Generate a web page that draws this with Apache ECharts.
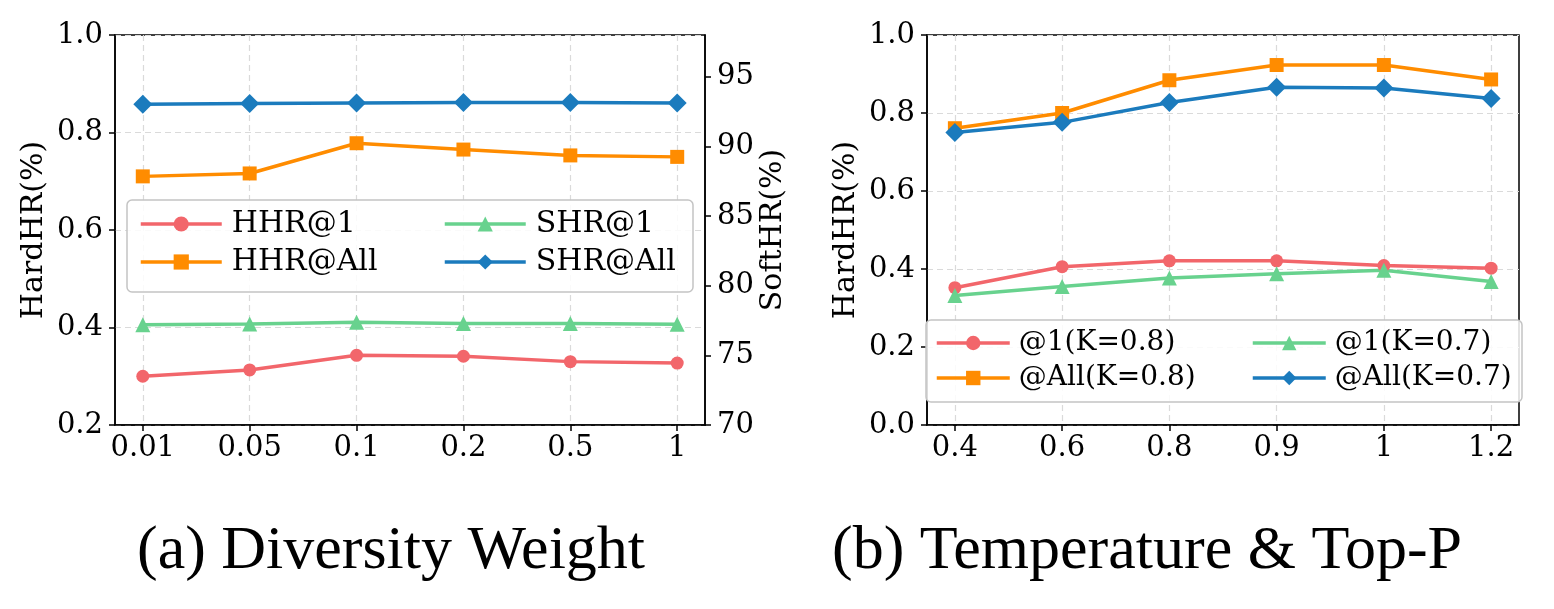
<!DOCTYPE html>
<html>
<head>
<meta charset="utf-8">
<script src="https://cdn.jsdelivr.net/npm/echarts@6/dist/echarts.min.js"></script>
<style>
  html, body { margin: 0; padding: 0; background: #fff; }
  #main { width: 1554px; height: 609px; }
</style>
</head>
<body>
<div id="main"></div>
<script>
// (a) diversity weight
const weightLabels = ['0.01', '0.05', '0.1', '0.2', '0.5', '1'];
const hhr1 = [0.300, 0.313, 0.343, 0.341, 0.330, 0.327];
const hhrAll = [0.710, 0.716, 0.778, 0.765, 0.753, 0.750];
const shr1 = [77.2, 77.25, 77.38, 77.28, 77.28, 77.24];//SoftHR, right axis
const shrAll = [93.03, 93.08, 93.12, 93.15, 93.15, 93.12];

// (b) temperature & top-p
const tempLabels = ['0.4', '0.6', '0.8', '0.9', '1', '1.2'];
const at1K08 = [0.352, 0.406, 0.421, 0.421, 0.409, 0.402];
const at1K07 = [0.332, 0.355, 0.377, 0.388, 0.397, 0.368];
const atAllK08 = [0.761, 0.800, 0.884, 0.923, 0.923, 0.886];
const atAllK07 = [0.750, 0.776, 0.827, 0.866, 0.864, 0.837];

const softTicks = [70, 75, 80, 85, 90, 95];

const RED = '#f2666b', ORANGE = '#ff8c00', GREEN = '#68d28e', BLUE = '#1b7bbd';
const SERIF = 'DejaVu Serif';
const idx = [0, 1, 2, 3, 4, 5];
const GRIDLINE = { color: '#dadada', type: [6, 4], width: 1.2 };

let chart = echarts.init(document.getElementById('main'), null, { renderer: 'canvas' });

function pairs(arr) {
  return arr.map((v, i) => [i, v]);
}

function lineSeries(name, data, color, symbol, size, xi, yi) {
  return {
    name: name,
    type: 'line',
    xAxisIndex: xi,
    yAxisIndex: yi,
    data: pairs(data),
    symbol: symbol,
    symbolSize: size,
    lineStyle: { color: color, width: 3.5 },
    itemStyle: { color: color },
    emphasis: { disabled: true },
    animation: false,
    z: 2
  };
}

function catAxis(gridIndex, labels) {
  return {
    type: 'value',
    gridIndex: gridIndex,
    min: -0.26,
    max: 5.26,
    axisLine: { show: true, onZero: false, lineStyle: { color: '#000', width: 1.5 } },
    axisTick: { show: true, inside: false, length: 6, customValues: idx, lineStyle: { color: '#000', width: 1.5 } },
    axisLabel: {
      customValues: idx,
      margin: 9,
      fontFamily: SERIF, fontSize: 29, color: '#000',
      formatter: v => labels[Math.round(v)]
    },
    splitLine: { show: true, lineStyle: GRIDLINE }
  };
}

function yAxis(gridIndex, min, max, interval, position, name, fmt, grid) {
  return {
    type: 'value',
    gridIndex: gridIndex,
    position: position,
    min: min,
    max: max,
    interval: interval,
    name: name,
    nameLocation: 'middle',
    nameGap: position === 'left' ? 66 : 52,
    nameRotate: 90,
    nameTextStyle: { fontFamily: SERIF, fontSize: 30, color: '#000' },
    axisLine: { show: true, onZero: false, lineStyle: { color: '#000', width: 1.5 } },
    axisTick: { show: true, inside: false, length: 6, lineStyle: { color: '#000', width: 1.5 } },
    axisLabel: { margin: 12, fontFamily: SERIF, fontSize: 29, color: '#000', formatter: fmt },
    splitLine: { show: grid, lineStyle: GRIDLINE }
  };
}

function legend(left, top, names, w, h, gap, fs, pad) {
  return {
    orient: 'vertical',
    left: left,
    top: top,
    padding: 0,
    itemWidth: w,
    itemHeight: h,
    itemGap: gap,
    z: 6,
    data: names,
    selectedMode: false,
    lineStyle: { width: 3.5 },
    textStyle: { fontFamily: SERIF, fontSize: fs, lineHeight: fs, color: '#000', padding: [0, 0, 0, pad] }
  };
}

function legendBox(x, y, w, h) {
  return {
    type: 'rect',
    z: 4,
    shape: { x: x, y: y, width: w, height: h, r: 5 },
    style: { fill: 'rgba(255,255,255,0.85)', stroke: '#c4c4c4', lineWidth: 1.5 }
  };
}

const fmt1 = v => v.toFixed(1);

// right SoftHR axis stops at 98 but is only labelled up to 95
let softAxis = yAxis(0, 70, 98, 5, 'right', 'SoftHR(%)', v => String(v), false);
softAxis.axisLabel.customValues = softTicks;
softAxis.axisTick.customValues = softTicks;

let option = {
  backgroundColor: '#fff',
  animation: false,
  title: [
    { text: '(a) Diversity Weight', left: 132, top: 516, textStyle: { fontFamily: 'Liberation Serif', fontSize: 62, fontWeight: 'normal', color: '#000' } },
    { text: '(b) Temperature & Top-P', left: 827, top: 516, textStyle: { fontFamily: 'Liberation Serif', fontSize: 62, fontWeight: 'normal', color: '#000' } }
  ],
  grid: [
    { left: 115, right: 849, top: 35, bottom: 184, show: true, borderColor: '#000', borderWidth: 1.5, backgroundColor: 'transparent' },
    { left: 927, right: 35, top: 35, bottom: 184, show: true, borderColor: '#000', borderWidth: 1.5, backgroundColor: 'transparent' }
  ],
  xAxis: [catAxis(0, weightLabels), catAxis(1, tempLabels)],
  yAxis: [
    yAxis(0, 0.2, 1.0, 0.2, 'left', 'HardHR(%)', fmt1, true),
    softAxis,
    yAxis(1, 0, 1, 0.2, 'left', 'HardHR(%)', fmt1, true)
  ],
  legend: [
    legend(139, 209, ['HHR@1', 'HHR@All'], 81, 19, 8, 30, 5),
    legend(443, 209, ['SHR@1', 'SHR@All'], 81, 19, 8, 30, 5),
    legend(935, 329, ['@1(K=0.8)', '@All(K=0.8)'], 73, 18, 7, 28, 4),
    legend(1251, 329, ['@1(K=0.7)', '@All(K=0.7)'], 73, 18, 7, 28, 4)
  ],
  graphic: { elements: [legendBox(127, 200, 566, 92), legendBox(926, 320, 596, 82)] },
  series: [
    lineSeries('HHR@1', hhr1, RED, 'circle', 13, 0, 0),
    lineSeries('HHR@All', hhrAll, ORANGE, 'rect', 14, 0, 0),
    lineSeries('SHR@1', shr1, GREEN, 'triangle', 15, 0, 1),
    lineSeries('SHR@All', shrAll, BLUE, 'diamond', 19, 0, 1),
    lineSeries('@1(K=0.8)', at1K08, RED, 'circle', 13, 1, 2),
    lineSeries('@1(K=0.7)', at1K07, GREEN, 'triangle', 15, 1, 2),
    lineSeries('@All(K=0.8)', atAllK08, ORANGE, 'rect', 14, 1, 2),
    lineSeries('@All(K=0.7)', atAllK07, BLUE, 'diamond', 19, 1, 2)
  ]
};

chart.setOption(option);
</script>
</body>
</html>
